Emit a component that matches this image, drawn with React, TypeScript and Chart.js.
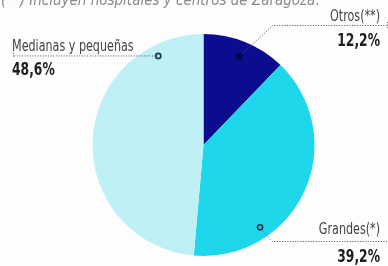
import React, { useEffect, useRef } from "react";
import { Chart, registerables } from "chart.js";

Chart.register(...registerables);

const categories = ["Otros(**)", "Grandes(*)", "Medianas y pequeñas"];
const values = [12.2, 39.2, 48.6];
const colors = ["#0c0c8e", "#1fd7ea", "#bff0f6"];
const footnote = "(**) Incluyen hospitales y centros de Zaragoza.";

const FONT = "'DejaVu Sans Condensed', 'Liberation Sans Narrow', 'Roboto', sans-serif";

const calloutPlugin = {
  id: "callouts",
  afterDraw(chart: any) {
    const ctx = chart.ctx as CanvasRenderingContext2D;
    const meta = chart.getDatasetMeta(0);
    const dotPos = [
      [0.5, 0.86],
      [0.72, 0.9],
      [0.846, 0.9],
    ];
    const dots: { x: number; y: number }[] = [];
    meta.data.forEach((arc: any, i: number) => {
      const p = arc.getProps(["x", "y", "startAngle", "endAngle", "outerRadius"], true);
      const a = p.startAngle + dotPos[i][0] * (p.endAngle - p.startAngle);
      const r = p.outerRadius * dotPos[i][1];
      dots.push({ x: p.x + Math.cos(a) * r, y: p.y + Math.sin(a) * r });
    });

    ctx.save();
    ctx.fillStyle = "#8a8a8a";
    ctx.font = `italic 15px ${FONT}`;
    ctx.textAlign = "left";
    ctx.textBaseline = "alphabetic";
    ctx.fillText(footnote, 1, 5);

    const dotted = (pts: number[][]) => {
      ctx.beginPath();
      ctx.setLineDash([1, 1.6]);
      ctx.strokeStyle = "#555";
      ctx.lineWidth = 1;
      ctx.moveTo(pts[0][0], pts[0][1]);
      for (let k = 1; k < pts.length; k++) ctx.lineTo(pts[k][0], pts[k][1]);
      ctx.stroke();
      ctx.setLineDash([]);
    };
    const fmt = (v: number) => v.toFixed(1).replace(".", ",") + "%";
    const squeezed = (t: string, x: number, y: number, align: "left" | "right", font: string, color: string, sx: number) => {
      ctx.save();
      ctx.font = font;
      ctx.fillStyle = color;
      ctx.textAlign = "left";
      const w = ctx.measureText(t).width * sx;
      const left = align === "left" ? x : x - w;
      ctx.translate(left, y);
      ctx.scale(sx, 1);
      ctx.fillText(t, 0, 0);
      ctx.restore();
    };
    const label = (t: string, x: number, y: number, align: "left" | "right") =>
      squeezed(t, x, y, align, `15.5px ${FONT}`, "#444", 0.8);
    const pct = (t: string, x: number, y: number, align: "left" | "right") =>
      squeezed(t, x, y, align, `bold 18.5px ${FONT}`, "#1e1e1e", 0.74);

    const d0 = dots[0];
    dotted([[d0.x, d0.y], [273, 25.5], [387, 25.5]]);
    dotted([[387.5, 22], [387.5, 29]]);
    label(categories[0], 380, 21, "right");
    pct(fmt(values[0]), 380, 46, "right");

    const d1 = dots[1];
    dotted([[d1.x, d1.y], [272, 241.5], [388, 241.5]]);
    label(categories[1], 380, 234, "right");
    pct(fmt(values[1]), 380, 262, "right");

    const d2 = dots[2];
    dotted([[d2.x, d2.y], [13, d2.y]]);
    dotted([[13.5, d2.y - 3], [13.5, d2.y + 1]]);
    label(categories[2], 12, 51, "left");
    pct(fmt(values[2]), 12, 75, "left");

    dots.forEach((d, i) => {
      ctx.beginPath();
      ctx.arc(d.x, d.y, 2.6, 0, Math.PI * 2);
      ctx.lineWidth = 1.6;
      ctx.strokeStyle = i === 0 ? "#06064a" : "#16384f";
      if (i === 0) {
        ctx.fillStyle = "#06064a";
        ctx.fill();
      }
      ctx.stroke();
    });
    ctx.restore();
  },
};

export default function App() {
  const ref = useRef<HTMLCanvasElement | null>(null);
  useEffect(() => {
    document.body.style.margin = "0";
    document.body.style.background = "#fdfdfd";
    const chart = new Chart(ref.current!, {
      type: "pie",
      data: {
        labels: categories,
        datasets: [
          {
            data: values,
            backgroundColor: colors,
            borderWidth: 0,
          },
        ],
      },
      options: {
        responsive: false,
        animation: false,
        layout: { padding: { left: 92.5, right: 73.5, top: 34, bottom: 10 } },
        plugins: {
          legend: { display: false },
          tooltip: { enabled: false },
        },
      },
      plugins: [calloutPlugin],
    });
    return () => chart.destroy();
  }, []);
  return (
    <div style={{ position: "absolute", left: 0, top: 0, width: 388, height: 266 }}>
      <canvas ref={ref} width={388} height={266} />
    </div>
  );
}
